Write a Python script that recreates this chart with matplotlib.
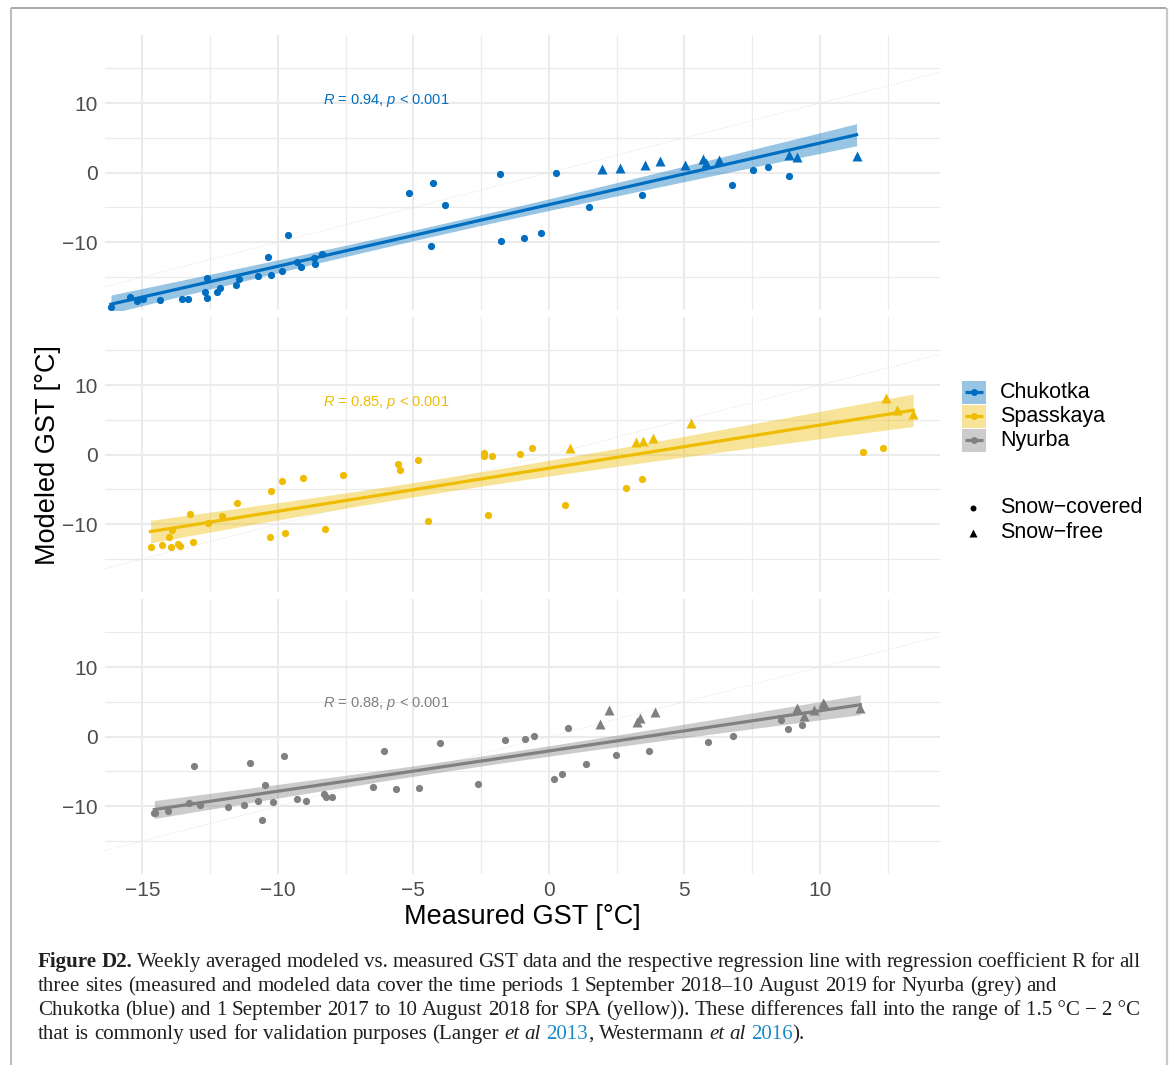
import numpy as np
import matplotlib
matplotlib.use("Agg")
import matplotlib.pyplot as plt
from matplotlib.patches import Rectangle

# ---------------- data ----------------
site_names = ["Chukotka", "Spasskaya", "Nyurba"]
site_colors = ["#006EC0", "#EEBC00", "#808080"]
r_labels = ["0.94", "0.85", "0.88"]
r_label_y = [10.35, 7.5, 4.75]

chuk_cov_x = [-16.16, -15.44, -15.19, -14.99, -14.34, -13.54, -13.33, -12.68, -12.63, -12.60,
              -12.26, -12.12, -11.53, -11.44, -10.75, -10.38, -10.25, -9.86, -9.64, -9.29,
              -9.15, -8.68, -8.63, -8.39, -5.17, -4.35, -4.26, -3.84, -1.82, -1.76,
              -0.92, -0.31, 0.25, 1.49, 3.44, 6.75, 7.52, 8.10, 8.84]
chuk_cov_y = [-19.28, -17.84, -18.42, -18.13, -18.32, -18.13, -18.13, -17.17, -17.99, -15.16,
              -17.22, -16.64, -16.16, -15.35, -14.92, -12.13, -14.72, -14.20, -8.97, -12.90,
              -13.57, -12.28, -13.14, -11.65, -2.88, -10.50, -1.44, -4.60, -0.14, -9.88,
              -9.35, -8.68, 0.00, -4.89, -3.21, -1.73, 0.38, 0.77, -0.48]
chuk_free_x = [1.94, 2.64, 3.54, 4.09, 5.02, 5.67, 5.81, 6.27, 8.84, 9.14, 11.35]
chuk_free_y = [0.48, 0.67, 1.06, 1.73, 1.10, 2.01, 1.34, 1.82, 2.49, 2.30, 2.40]

spa_cov_x = [-14.70, -14.28, -14.03, -13.95, -13.91, -13.69, -13.63, -13.26, -13.15, -12.58,
             -12.05, -11.50, -10.28, -10.26, -9.86, -9.73, -9.09, -8.27, -7.61, -5.58,
             -5.51, -4.82, -4.48, -2.41, -2.40, -2.25, -2.09, -1.06, -0.62, 0.59,
             2.83, 3.42, 11.59, 12.32]
spa_cov_y = [-13.24, -13.05, -11.80, -13.33, -10.89, -12.85, -13.09, -8.54, -12.61, -9.83,
             -8.87, -6.91, -11.80, -5.23, -3.84, -11.32, -3.36, -10.70, -2.88, -1.29,
             -2.21, -0.72, -9.54, 0.19, -0.14, -8.68, -0.24, 0.10, 1.01, -7.24,
             -4.80, -3.55, 0.38, 1.01]
spa_free_x = [0.78, 3.22, 3.48, 3.85, 5.26, 12.43, 12.84, 13.44]
spa_free_y = [1.01, 1.87, 2.01, 2.35, 4.60, 8.11, 6.38, 5.90]

nyu_cov_x = [-14.56, -14.54, -14.07, -13.28, -13.09, -12.88, -11.83, -11.24, -11.03, -10.73,
             -10.59, -10.49, -10.18, -9.79, -9.29, -8.97, -8.30, -8.23, -8.01, -6.48,
             -6.09, -5.66, -4.78, -4.02, -2.61, -1.62, -0.89, -0.54, 0.20, 0.48,
             0.72, 1.36, 2.46, 3.68, 5.86, 6.81, 8.58, 8.83, 9.35]
nyu_cov_y = [-10.94, -11.03, -10.65, -9.59, -4.22, -9.78, -10.12, -9.83, -3.84, -9.30,
             -11.99, -7.00, -9.45, -2.78, -8.92, -9.30, -8.30, -8.73, -8.68, -7.24,
             -2.01, -7.58, -7.39, -0.86, -6.86, -0.53, -0.29, 0.10, -6.04, -5.42,
             1.25, -3.88, -2.59, -2.06, -0.72, 0.14, 2.35, 1.10, 1.63]
nyu_free_x = [1.90, 2.22, 3.25, 3.36, 3.90, 9.14, 9.41, 9.78, 10.11, 10.14, 11.49]
nyu_free_y = [1.77, 3.88, 2.11, 2.69, 3.50, 4.17, 3.02, 3.79, 4.89, 4.65, 4.17]

x_ticks = [-15, -10, -5, 0, 5, 10]
y_ticks = [-10, 0, 10]
shape_labels = ["Snow\u2212covered", "Snow\u2212free"]
x_title = "Measured GST [\u00b0C]"
y_title = "Modeled GST [\u00b0C]"

caption_lines = [
    [("Figure D2.", "b"), (" Weekly averaged modeled vs. measured GST data and the respective regression line with regression coefficient R for all", "n")],
    [("three sites (measured and modeled data cover the time periods 1 September 2018\u201310 August 2019 for Nyurba (grey) and", "n")],
    [("Chukotka (blue) and 1 September 2017 to 10 August 2018 for SPA (yellow)). These differences fall into the range of 1.5\u00a0\u00b0C \u2212 2\u00a0\u00b0C", "n")],
    [("that is commonly used for validation purposes (Langer ", "n"), ("et al", "i"), (" ", "n"), ("2013", "l"),
     (", Westermann ", "n"), ("et al", "i"), (" ", "n"), ("2016", "l"), (").", "n")],
]
caption_justify = [True, False, True, False]

# ---------------- style ----------------
W, H, DPI = 1173, 1065, 100
plt.rcParams['font.family'] = ['Liberation Sans', 'DejaVu Sans']
plt.rcParams['mathtext.fontset'] = 'custom'
plt.rcParams['mathtext.rm'] = 'Liberation Sans'
plt.rcParams['mathtext.it'] = 'Liberation Sans:italic'

fig = plt.figure(figsize=(W / DPI, H / DPI), dpi=DPI)
fig.patch.set_facecolor("white")

def px_axes(x0, y0, x1, y1):
    return fig.add_axes([x0 / W, 1 - y1 / H, (x1 - x0) / W, (y1 - y0) / H])

XL = (-16.38, 14.43)
YL = (-19.75, 19.8)
panel_tops = [35, 317, 599]
PH = 275
PX0, PX1 = 105, 940

series = [
    (chuk_cov_x, chuk_cov_y, chuk_free_x, chuk_free_y),
    (spa_cov_x, spa_cov_y, spa_free_x, spa_free_y),
    (nyu_cov_x, nyu_cov_y, nyu_free_x, nyu_free_y),
]

for i, (cx, cy, fx, fy) in enumerate(series):
    col = site_colors[i]
    ax = px_axes(PX0, panel_tops[i], PX1, panel_tops[i] + PH)
    ax.set_xlim(*XL)
    ax.set_ylim(*YL)
    for s in ax.spines.values():
        s.set_visible(False)
    ax.set_xticks(x_ticks)
    ax.set_xticks([t + 2.5 for t in [-15, -10, -5, 0, 5, 10]], minor=True)
    ax.set_yticks(y_ticks)
    ax.set_yticks([-15, -5, 5, 15], minor=True)
    ax.grid(which="major", color="#EBEBEB", lw=1.5)
    ax.grid(which="minor", color="#EBEBEB", lw=0.9)
    ax.set_axisbelow(True)
    ax.tick_params(which="both", length=0)
    ax.tick_params(axis="y", labelsize=15, labelcolor="#4D4D4D", pad=5)
    ax.tick_params(axis="x", labelsize=15, labelcolor="#4D4D4D", pad=5)
    if i < 2:
        ax.tick_params(axis="x", labelbottom=False)

    # identity line
    ax.axline((0, 0), slope=1, color="#E0E0E0", lw=0.6, ls=(0, (1.5, 2)), zorder=1)

    # regression with 95% CI
    X = np.array(cx + fx, float)
    Y = np.array(cy + fy, float)
    n = len(X)
    b, a = np.polyfit(X, Y, 1)
    resid = Y - (a + b * X)
    s2 = np.sum(resid ** 2) / (n - 2)
    xbar = X.mean()
    sxx = np.sum((X - xbar) ** 2)
    xs = np.linspace(X.min(), X.max(), 100)
    fit = a + b * xs
    se = np.sqrt(s2 * (1.0 / n + (xs - xbar) ** 2 / sxx))
    tval = 2.01
    ax.plot(cx, cy, "o", ms=5.2, color=col, mec="none", zorder=3)
    ax.plot(fx, fy, "^", ms=6.6, color=col, mec="none", zorder=3)
    ax.fill_between(xs, fit - tval * se, fit + tval * se, color=col, alpha=0.4, lw=0, zorder=4)
    ax.plot(xs, fit, color=col, lw=2.3, zorder=5)

    ax.text(-8.34, r_label_y[i], r"$R$ = " + r_labels[i] + r", $p$ < 0.001",
            ha="left", va="center", color=col, fontsize=10.5)

# axis titles
fig.text(522.5 / W, 1 - 917 / H, x_title, ha="center", va="center", fontsize=19.5, color="black")
fig.text(48 / W, 1 - 455 / H, y_title, ha="center", va="center", rotation=90, fontsize=19.5, color="black")

# overlay axes in pixel coordinates
ov = fig.add_axes([0, 0, 1, 1], zorder=10)
ov.set_xlim(0, W)
ov.set_ylim(H, 0)
ov.axis("off")
ov.patch.set_alpha(0)

# frame
ov.plot([11, 1166], [8, 8], color="#9A9A9A", lw=1.2, solid_capstyle="butt")
ov.plot([11, 11], [8, H], color="#BDBDBD", lw=1.5, solid_capstyle="butt")
ov.plot([1167, 1167], [8, H], color="#C8C8C8", lw=1.6, solid_capstyle="butt")

# colour legend
for i, name in enumerate(site_names):
    col = site_colors[i]
    y0 = 381 + i * 24
    ov.add_patch(Rectangle((962, y0), 24, 22.5, facecolor=col, alpha=0.4, lw=0))
    yc = y0 + 11.25
    ov.plot([965, 983], [yc, yc], color=col, lw=2.3, solid_capstyle="butt")
    ov.plot([974], [yc], "o", ms=5.0, color=col, mec="none")
    ov.text(1000, yc, name, ha="left", va="center", fontsize=15.5, color="black")

# shape legend
ov.plot([973], [507.5], "o", ms=4.3, color="black", mec="none")
ov.plot([973], [532.5], "^", ms=5.2, color="black", mec="none")
ov.text(1000, 507.5, shape_labels[0], ha="left", va="center", fontsize=15.5, color="black")
ov.text(1000, 532, shape_labels[1], ha="left", va="center", fontsize=15.5, color="black")

# caption
renderer = fig.canvas.get_renderer()
CAP_FONT = "Liberation Serif"
TXT = "#231F20"
LINK = "#1A8CC8"

def words_from_chunks(chunks):
    words = [[]]
    for text, style in chunks:
        parts = text.split(" ")
        for k, p in enumerate(parts):
            if k > 0:
                words.append([])
            if p:
                words[-1].append((p, style))
    return [w for w in words if w]

def style_kw(style, fs):
    kw = dict(fontfamily=CAP_FONT, fontsize=fs, color=TXT)
    if style == "b":
        kw["fontweight"] = "bold"
    if style == "i":
        kw["fontstyle"] = "italic"
    if style == "l":
        kw["color"] = LINK
    return kw

def measure(text, style, fs):
    t = ov.text(0, 0, text, **style_kw(style, fs))
    w = t.get_window_extent(renderer).width
    t.remove()
    return w

def space_w(fs):
    return measure("x x", "n", fs) - measure("xx", "n", fs)

def line_width(words, fs):
    tot = sum(measure(p, s, fs) for w in words for (p, s) in w)
    return tot + space_w(fs) * (len(words) - 1)

all_words = [words_from_chunks(c) for c in caption_lines]
base_fs = 14.0
nat = line_width(all_words[1], base_fs)
CAP_FS = base_fs * (1063 - 38) / nat

X0, X1 = 38, 1140
baselines = [967, 991, 1015, 1039]
sw = space_w(CAP_FS)
for words, just, yb in zip(all_words, caption_justify, baselines):
    widths = [[measure(p, s, CAP_FS) for (p, s) in w] for w in words]
    word_tot = sum(sum(ws) for ws in widths)
    if just and len(words) > 1:
        gap = (X1 - X0 - word_tot) / (len(words) - 1)
    else:
        gap = sw
    x = X0
    for w, ws in zip(words, widths):
        for (p, s), pw in zip(w, ws):
            ov.text(x, yb, p, ha="left", va="baseline", **style_kw(s, CAP_FS))
            x += pw
        x += gap

fig.savefig("out.png", dpi=DPI, facecolor="white")
